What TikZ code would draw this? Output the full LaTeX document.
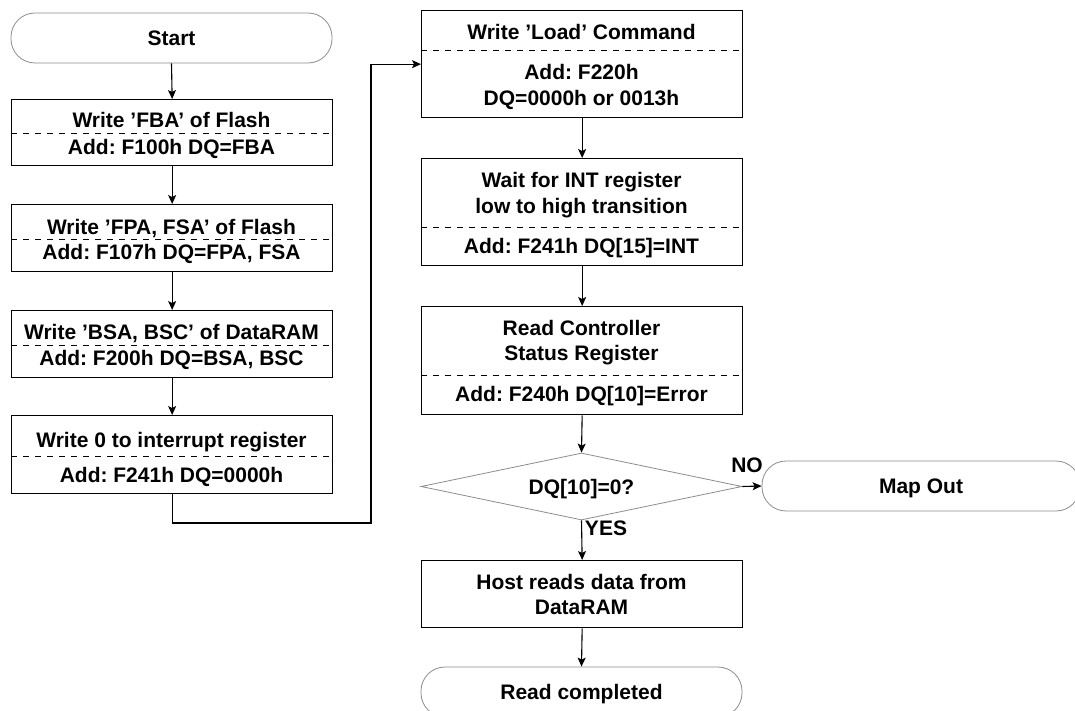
\documentclass[tikz,border=0pt]{standalone}
\usepackage{fontspec}
\setmainfont{Liberation Sans}
\usetikzlibrary{arrows.meta,shapes.geometric}
\begin{document}
\frenchspacing
\begin{tikzpicture}[x=1pt,y=-1pt,
  every node/.style={font=\fontsize{21}{26}\selectfont\bfseries\frenchspacing},
  box/.style={draw=black,line width=1.3pt,minimum width=321pt,inner sep=0pt,anchor=north west},
  txt/.style={inner sep=0pt,anchor=base},
  term/.style={draw=black!45,line width=0.8pt,rounded corners=24pt,minimum width=321pt,minimum height=50pt,inner sep=0pt,text height=15pt,text depth=0pt},
  dec/.style={draw=black!45,line width=0.8pt,shape=diamond,aspect=4.79,minimum width=321pt,minimum height=67pt,inner sep=0pt,text height=15pt,text depth=0pt},
  sep/.style={line width=0.9pt,dash pattern=on 6pt off 6pt},
  arr/.style={line width=1.1pt,-{Stealth[length=9pt,width=8pt,inset=2pt]}},
  lbl/.style={inner sep=0pt,text height=15pt,text depth=0pt}
]
\useasboundingbox (0,0) rectangle (1075,711);

% left column
\node[term] (start) at (171.5,38) {Start};

\node[box,minimum height=66pt] (b1) at (11,99) {};
\draw[sep] (b1.west |- 0,133) -- (b1.east |- 0,133);
\node[txt] (b1a) at (171.5,127.5) {Write ’FBA’ of Flash};
\node[txt] (b1b) at (171.5,154.5) {Add: F100h DQ=FBA};

\node[box,minimum height=67pt] (b2) at (11,204) {};
\draw[sep] (b2.west |- 0,239) -- (b2.east |- 0,239);
\node[txt] (b2a) at (171.5,234.5) {Write ’FPA, FSA’ of Flash};
\node[txt] (b2b) at (171.5,259.5) {Add: F107h DQ=FPA, FSA};

\node[box,minimum height=67pt] (b3) at (11,310) {};
\draw[sep] (b3.west |- 0,345) -- (b3.east |- 0,345);
\node[txt] (b3a) at (171.5,339.5) {Write ’BSA, BSC’ of DataRAM};
\node[txt] (b3b) at (171.5,365) {Add: F200h DQ=BSA, BSC};

\node[box,minimum height=78pt] (b4) at (11,415) {};
\draw[sep] (b4.west |- 0,456) -- (b4.east |- 0,456);
\node[txt] (b4a) at (171.5,447.5) {Write 0 to interrupt register};
\node[txt] (b4b) at (171.5,482.5) {Add: F241h DQ=0000h};

% right column
\node[box,minimum height=107pt] (b5) at (421,10) {};
\draw[sep] (b5.west |- 0,50) -- (b5.east |- 0,50);
\node[txt] (b5a) at (581.5,39.5) {Write ’Load’ Command};
\node[txt] (b5b) at (581.5,79.5) {Add: F220h};
\node[txt] (b5c) at (581.5,105.5) {DQ=0000h or 0013h};

\node[box,minimum height=107pt] (b6) at (421,158) {};
\draw[sep] (b6.west |- 0,227) -- (b6.east |- 0,227);
\node[txt] (b6a) at (581.5,188) {Wait for INT register};
\node[txt] (b6b) at (581.5,214) {low to high transition};
\node[txt] (b6c) at (581.5,254) {Add: F241h DQ[15]=INT};

\node[box,minimum height=108pt] (b7) at (421,306) {};
\draw[sep] (b7.west |- 0,375) -- (b7.east |- 0,375);
\node[txt] (b7a) at (581.5,335) {Read Controller};
\node[txt] (b7b) at (581.5,360) {Status Register};
\node[txt] (b7c) at (581.5,401.5) {Add: F240h DQ[10]=Error};

\node[dec] (d) at (581.5,486.5) {DQ[10]=0?};
\node[term,minimum width=318pt] (mo) at (921,486) {Map Out};

\node[box,minimum height=67pt] (b8) at (421,560) {};
\node[txt] (b8a) at (581.5,589.5) {Host reads data from};
\node[txt] (b8b) at (581.5,614) {DataRAM};

\node[term] (fin) at (581.5,692) {Read completed};

\node[lbl] (no) at (747,465) {NO};
\node[lbl] (yes) at (606,528) {YES};

% connectors
\draw[arr] (start.south) -- (b1.north);
\draw[arr] (b1.south) -- (b2.north);
\draw[arr] (b2.south) -- (b3.north);
\draw[arr] (b3.south) -- (b4.north);
\coordinate (c1) at (371,523);
\draw[arr] (b4.south) |- (c1) |- (b5.west);
\draw[arr] (b5.south) -- (b6.north);
\draw[arr] (b6.south) -- (b7.north);
\draw[arr] (b7.south) -- (d.north);
\draw[arr] (d.east) -- (mo.west);
\draw[arr] (d.south) -- (b8.north);
\draw[arr] (b8.south) -- (fin.north);
\end{tikzpicture}
\end{document}
